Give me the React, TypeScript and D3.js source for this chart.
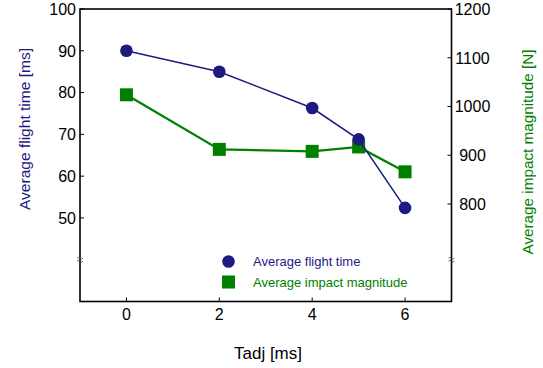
import * as d3 from "d3";

const xTicks = [0, 2, 4, 6];
const tadj = [0, 2, 4, 5, 6];
const flightTime = [90, 85, 76.3, 68.8, 52.4];
const impactMag = [1024, 912, 908, 917, 866];
const leftTicks = [50, 60, 70, 80, 90, 100];
const rightTicks = [800, 900, 1000, 1100, 1200];

const BLUE = "#1e1a82";
const GREEN = "#008000";
const FONT = "'Liberation Sans', Arial, sans-serif";

const W = 543;
const H = 368;
const m = { left: 80, right: 451.5, top: 9, bottom: 301.5 };

export default function App() {
    const x = d3.scaleLinear().domain([-1, 7]).range([m.left, m.right]);
    const yL = d3.scaleLinear().domain([30, 100]).range([m.bottom, m.top]);
    const yR = d3.scaleLinear().domain([600, 1200]).range([m.bottom, m.top]);

    const flightPts = tadj.map((t, i) => [x(t), yL(flightTime[i])] as [number, number]);
    const impactPts = tadj.map((t, i) => [x(t), yR(impactMag[i])] as [number, number]);
    const line = d3.line();

    const breakY = yL(40);
    // little "approx" break marks on both y axes
    const breakMark = (cx: number) => {
        const w = 3;
        return [-1.5, 1.5].map((dy, k) => (
            <path key={k}
                d={`M${cx - w},${breakY + dy} q${w / 2},-2 ${w},0 t${w},0`}
                fill="none" stroke="#444" strokeWidth={0.8} />
        ));
    };

    return (
        <svg width={W} height={H} style={{ position: "absolute", left: 0, top: 0 }} fontFamily={FONT}>
            <rect width={W} height={H} fill="white" />

            {/* frame */}
            <rect x={m.left} y={m.top} width={m.right - m.left} height={m.bottom - m.top}
                fill="none" stroke="black" strokeWidth={1.6} />

            {/* x ticks */}
            {xTicks.map(t => (
                <g key={t}>
                    <line x1={x(t)} x2={x(t)} y1={m.bottom} y2={m.bottom - 4} stroke="black" />
                    <text x={x(t)} y={319.5} fontSize={16} textAnchor="middle">{t}</text>
                </g>
            ))}

            {/* left ticks */}
            {leftTicks.map(t => (
                <g key={t}>
                    <line x1={m.left} x2={m.left + 4} y1={yL(t)} y2={yL(t)} stroke="black" />
                    <text x={76} y={yL(t)} dy="0.36em" fontSize={16} textAnchor="end">{t}</text>
                </g>
            ))}

            {/* right ticks */}
            {rightTicks.map(t => (
                <g key={t}>
                    <line x1={m.right - 4} x2={m.right} y1={yR(t)} y2={yR(t)} stroke="black" />
                    <text x={472.5} y={yR(t)} dy="0.36em" fontSize={16} textAnchor="middle">{t}</text>
                </g>
            ))}

            {breakMark(m.left)}
            {breakMark(m.right)}

            {/* axis titles */}
            <text transform={`translate(29.5,129) rotate(-90)`} fontSize={15} fill={BLUE}
                textAnchor="middle" textLength={162} lengthAdjust="spacingAndGlyphs">Average flight time [ms]</text>
            <text transform={`translate(532.5,152) rotate(-90)`} fontSize={15} fill={GREEN}
                textAnchor="middle" textLength={205} lengthAdjust="spacingAndGlyphs">Average impact magnitude [N]</text>
            <text x={268} y={359} fontSize={17} textAnchor="middle">Tadj [ms]</text>

            {/* impact series */}
            <path d={line(impactPts) ?? ""} fill="none" stroke={GREEN} strokeWidth={2.2} />
            {impactPts.map(([px, py], i) => (
                <rect key={i} x={px - 6.5} y={py - 6.5} width={13} height={13} fill={GREEN} />
            ))}

            {/* flight time series */}
            <path d={line(flightPts) ?? ""} fill="none" stroke={BLUE} strokeWidth={1.5} />
            {flightPts.map(([px, py], i) => (
                <circle key={i} cx={px} cy={py} r={6.3} fill={BLUE} />
            ))}

            {/* legend */}
            <circle cx={228.5} cy={261.5} r={6.3} fill={BLUE} />
            <text x={253} y={261.5} dy="0.36em" fontSize={13} fill={BLUE}>Average flight time</text>
            <rect x={222} y={275.5} width={13} height={13} fill={GREEN} />
            <text x={253} y={282} dy="0.36em" fontSize={13} fill={GREEN}>Average impact magnitude</text>
        </svg>
    );
}
